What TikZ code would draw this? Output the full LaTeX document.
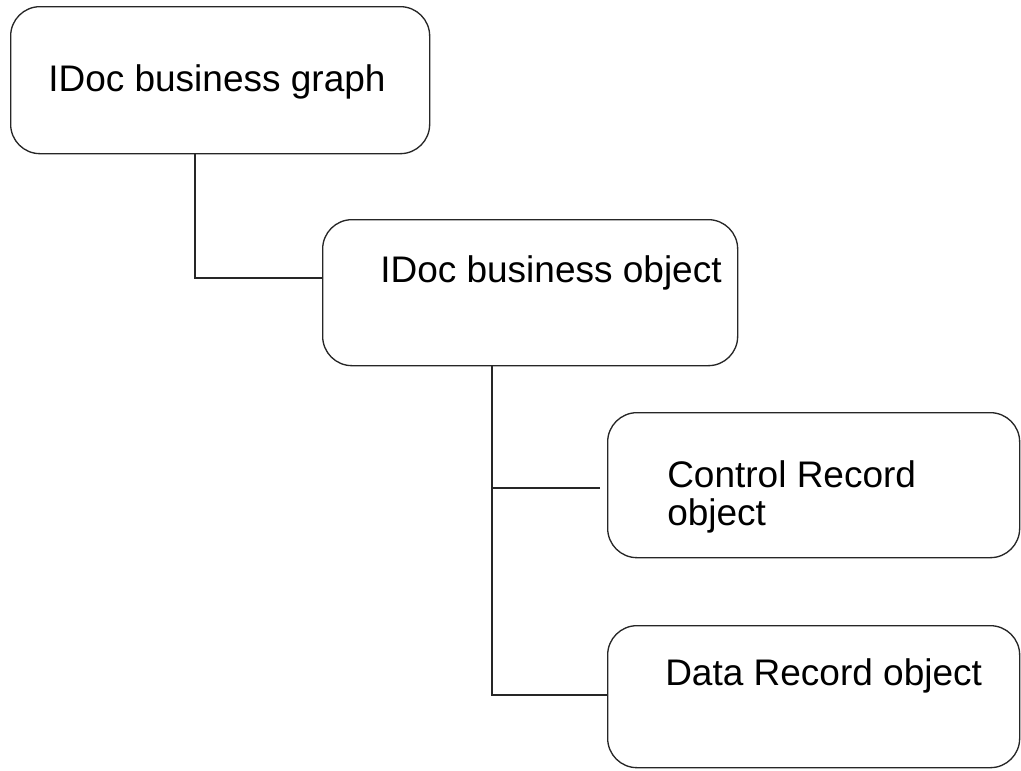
\documentclass[tikz,border=0pt]{standalone}
\usepackage{fontspec}
\setmainfont{Liberation Sans}
\begin{document}
\begin{tikzpicture}[x=0.75pt,y=-0.75pt,
  box/.style={draw=black!85, line width=1pt, rounded corners=22pt, anchor=north west, inner sep=0pt},
  lbl/.style={anchor=base west, inner sep=0pt, font=\fontsize{27.75}{28}\selectfont, align=left},
  wire/.style={draw=black!85, line width=1pt}]
\useasboundingbox (0,0) rectangle (1021,771);
\node[box, minimum width=314.25pt, minimum height=110.25pt] (g) at (10,6) {};
\node[box, minimum width=311.25pt, minimum height=109.5pt] (o) at (322,219) {};
\node[box, minimum width=309pt, minimum height=108.75pt] (c) at (607,412) {};
\node[box, minimum width=309pt, minimum height=106.5pt] (d) at (607,625) {};
\node[lbl] (gt) at (48,91) {IDoc business graph};
\node[lbl] (ot) at (380,282) {IDoc business object};
\node[lbl] (ct) at (667,525) {Control Record\\object};
\node[lbl] (dt) at (665,685) {Data Record object};
\coordinate (j1) at (195,278);
\coordinate (j2) at (492,695);
\coordinate (j3) at (492,488);
\coordinate (e3) at (600,488);
\draw[wire] (g.south -| j1) -- (j1) -- (j1 -| o.west);
\draw[wire] (o.south -| j2) -- (j2) -- (j2 -| d.west);
\draw[wire] (j3) -- (e3);
\end{tikzpicture}
\end{document}
